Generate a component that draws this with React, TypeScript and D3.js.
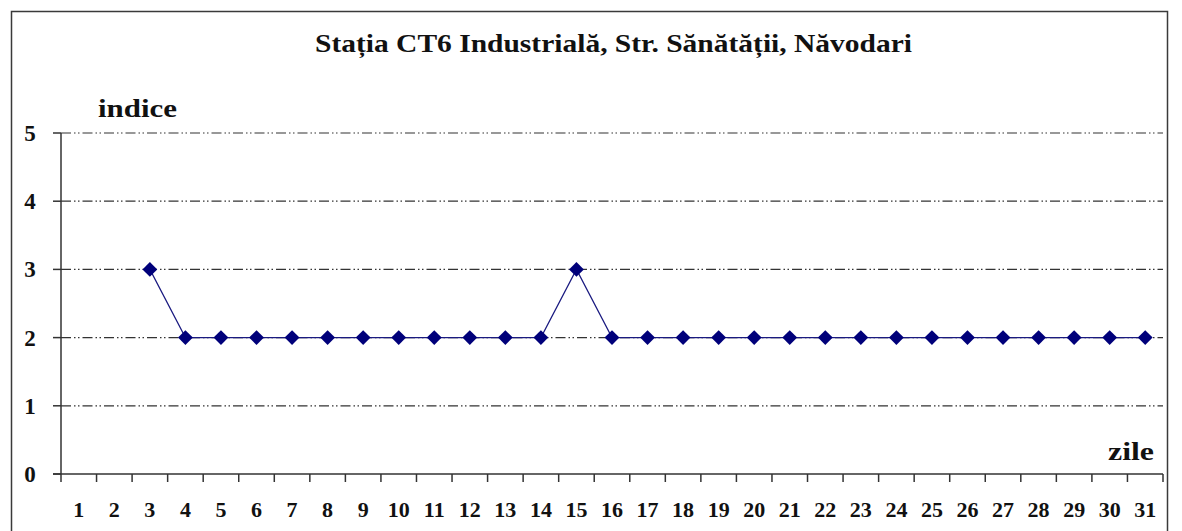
import React from "react";
import * as d3 from "d3";

const days: number[] = Array.from({ length: 31 }, (_, i) => i + 1);
const values: (number | null)[] = [
  null, null, 3, 2, 2, 2, 2, 2, 2, 2, 2, 2, 2, 2, 3, 2, 2, 2, 2, 2, 2, 2, 2, 2, 2, 2, 2, 2, 2, 2, 2,
];
const yTicks: number[] = [0, 1, 2, 3, 4, 5];
const title = "Stația CT6 Industrială, Str. Sănătății, Năvodari";

const W = 1182;
const H = 531;
const left = 61;
const right = 1163;
const top = 133;
const bottom = 474;
const font = "'Liberation Serif', 'Times New Roman', serif";

export default function App() {
  const x = d3.scaleBand<number>().domain(days).range([left, right]).padding(0);
  const y = d3.scaleLinear().domain([0, 5]).range([bottom, top]);
  const pts = days
    .map((d, i) => ({ d, v: values[i] }))
    .filter((p) => p.v !== null) as { d: number; v: number }[];
  const line = d3
    .line<{ d: number; v: number }>()
    .x((p) => (x(p.d) as number) + x.bandwidth() / 2)
    .y((p) => y(p.v));
  const diamond = d3.symbol().type(d3.symbolDiamond2).size(140)();
  const boundaries = days.map((d) => x(d) as number).concat([right]);

  return (
    <svg
      width={W}
      height={H}
      style={{ position: "absolute", left: 0, top: 0, background: "#fff" }}
    >
      <rect x={0} y={0} width={W} height={H} fill="#fff" />
      <rect x={11.5} y={11.5} width={1156} height={560} fill="none" stroke="#3a3a3a" strokeWidth={1.5} />
      <text
        x={315}
        y={52}
        textLength={597}
        lengthAdjust="spacingAndGlyphs"
        fontFamily={font}
        fontWeight="bold"
        fontSize={25}
        fill="#111"
      >
        {title}
      </text>
      <text
        x={98}
        y={117}
        textLength={79}
        lengthAdjust="spacingAndGlyphs"
        fontFamily={font}
        fontWeight="bold"
        fontSize={26}
        fill="#111"
      >
        indice
      </text>
      <text
        x={1108}
        y={460}
        textLength={46}
        lengthAdjust="spacingAndGlyphs"
        fontFamily={font}
        fontWeight="bold"
        fontSize={25}
        fill="#111"
      >
        zile
      </text>
      {yTicks.filter((t) => t > 0).map((t) => (
        <line
          key={"g" + t}
          x1={left}
          x2={right}
          y1={y(t)}
          y2={y(t)}
          stroke="#333"
          strokeWidth={1.2}
          strokeDasharray="10,3,1.5,2.5,1.5,3"
        />
      ))}
      {yTicks.map((t) => (
        <g key={"yt" + t}>
          <line x1={53} x2={left} y1={y(t)} y2={y(t)} stroke="#333" strokeWidth={1.5} />
          <text
            x={30}
            y={y(t)}
            dy="0.35em"
            textAnchor="middle"
            fontFamily={font}
            fontWeight="bold"
            fontSize={23}
            fill="#111"
          >
            {t}
          </text>
        </g>
      ))}
      <line x1={left} x2={left} y1={top} y2={bottom} stroke="#333" strokeWidth={1.5} />
      <line x1={53} x2={right} y1={bottom} y2={bottom} stroke="#333" strokeWidth={1.5} />
      {boundaries.map((b, i) => (
        <line key={"xt" + i} x1={b} x2={b} y1={bottom} y2={bottom + 8} stroke="#333" strokeWidth={1.5} />
      ))}
      {days.map((d) => (
        <text
          key={"xl" + d}
          x={(x(d) as number) + x.bandwidth() / 2}
          y={517}
          textAnchor="middle"
          fontFamily={font}
          fontWeight="bold"
          fontSize={22}
          fill="#111"
        >
          {d}
        </text>
      ))}
      <path d={line(pts) || ""} fill="none" stroke="#1a1a80" strokeWidth={1.2} />
      {pts.map((p) => (
        <path
          key={"m" + p.d}
          d={diamond || ""}
          transform={`translate(${(x(p.d) as number) + x.bandwidth() / 2},${y(p.v)})`}
          fill="#00007a"
        />
      ))}
    </svg>
  );
}
